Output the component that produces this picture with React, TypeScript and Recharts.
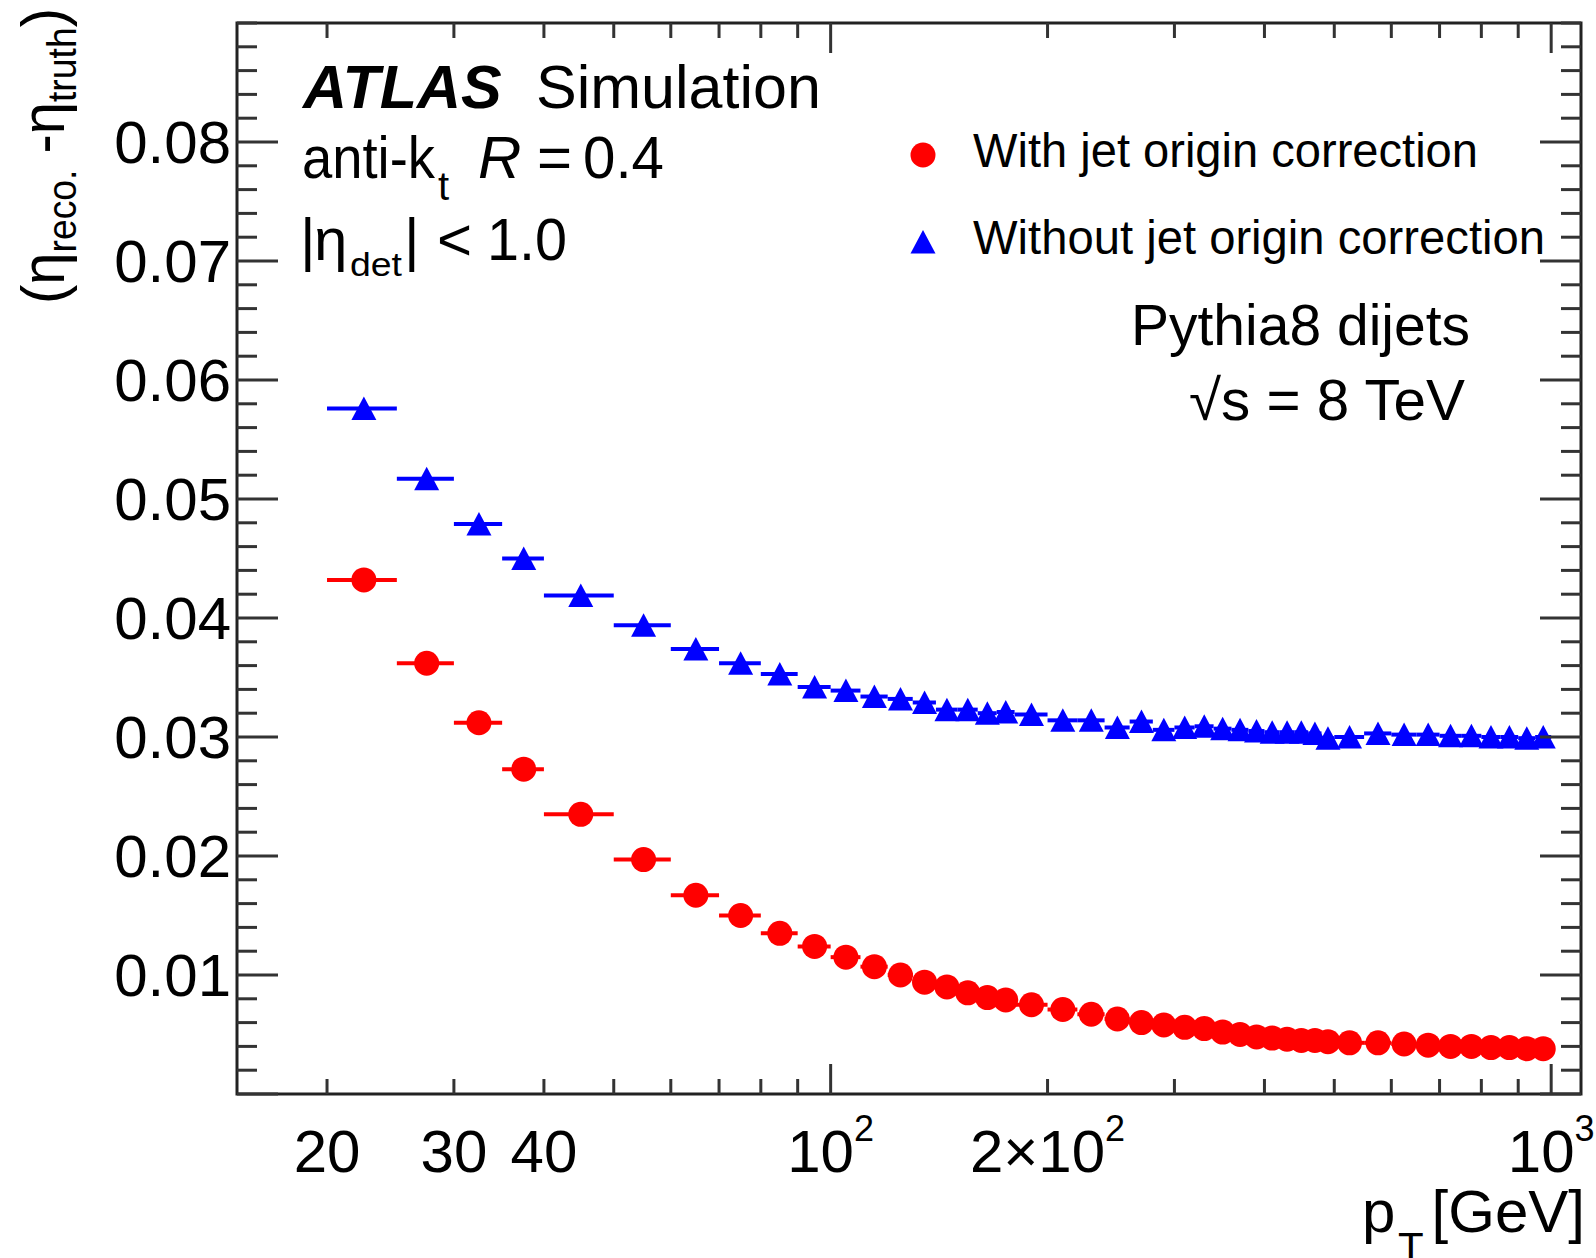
import React from 'react';
import { ScatterChart, Scatter, XAxis, YAxis, ErrorBar, ReferenceArea, Legend } from 'recharts';

// pT bin edges [GeV]
const ptEdges = [
  20, 25, 30, 35, 40, 50, 60, 70, 80, 90, 100, 110, 120, 130, 140, 150, 160, 170, 180,
  200, 220, 240, 260, 280, 300, 320, 340, 360, 380, 400, 420, 440, 460, 480, 500,
  550, 600, 650, 700, 750, 800, 850, 900, 950, 1000,
];

// <eta_reco - eta_truth> per bin
const withCorrection = [
  0.0432, 0.0362, 0.0312, 0.0273, 0.0235, 0.0197, 0.0167, 0.0150, 0.0135, 0.0124,
  0.0115, 0.0107, 0.0100, 0.0094, 0.0090, 0.0085, 0.0081, 0.0079, 0.0075, 0.0071,
  0.0067, 0.0063, 0.0060, 0.0058, 0.0056, 0.0055, 0.0052, 0.0050, 0.0048, 0.0047,
  0.0046, 0.0045, 0.0045, 0.0044, 0.0043, 0.0043, 0.0042, 0.0041, 0.0040, 0.0040,
  0.0039, 0.0039, 0.0038, 0.0038,
];
const withoutCorrection = [
  0.0576, 0.0517, 0.0479, 0.0450, 0.0419, 0.0394, 0.0374, 0.0362, 0.0353, 0.0342,
  0.0339, 0.0334, 0.0332, 0.0329, 0.0323, 0.0323, 0.0320, 0.0321, 0.0319, 0.0314,
  0.0314, 0.0308, 0.0313, 0.0306, 0.0308, 0.0309, 0.0307, 0.0306, 0.0305, 0.0304,
  0.0304, 0.0304, 0.0303, 0.0299, 0.0300, 0.0303, 0.0302, 0.0302, 0.0301, 0.0301,
  0.0300, 0.0300, 0.0299, 0.0300,
];

const seriesNames = ['With jet origin correction', 'Without jet origin correction'];

const xTicks = [20, 30, 40, 50, 60, 70, 80, 90, 100, 200, 300, 400, 500, 600, 700, 800, 900, 1000];
const xMajorTicks = [100, 1000];
const xTickLabels = [
  { v: 20, text: '20', sup: '' },
  { v: 30, text: '30', sup: '' },
  { v: 40, text: '40', sup: '' },
  { v: 100, text: '10', sup: '2' },
  { v: 200, text: '2\u00d710', sup: '2' },
  { v: 1000, text: '10', sup: '3' },
];

const yTicks = [
  0, 0.002, 0.004, 0.006, 0.008, 0.01, 0.012, 0.014, 0.016, 0.018,
  0.02, 0.022, 0.024, 0.026, 0.028, 0.03, 0.032, 0.034, 0.036, 0.038,
  0.04, 0.042, 0.044, 0.046, 0.048, 0.05, 0.052, 0.054, 0.056, 0.058,
  0.06, 0.062, 0.064, 0.066, 0.068, 0.07, 0.072, 0.074, 0.076, 0.078,
  0.08, 0.082, 0.084, 0.086, 0.088, 0.09,
];
const yTickLabels = ['0.01', '0.02', '0.03', '0.04', '0.05', '0.06', '0.07', '0.08'];

const W = 1596;
const H = 1258;
const LEFT = 237;
const RIGHT = 1581;
const TOP = 23;
const BOTTOM = 1094;
const FONT = '"Liberation Sans", Arial, Helvetica, sans-serif';
const RED = '#ff0000';
const BLUE = '#0000ff';
const TICK = '#333';

const buildSeries = (vals: number[]) =>
  vals.map((v, i) => {
    const lo = ptEdges[i];
    const hi = ptEdges[i + 1];
    const pt = (lo + hi) / 2;
    return { pt, y: v, xErr: [pt - lo, hi - pt] };
  });

const redData = buildSeries(withCorrection);
const blueData = buildSeries(withoutCorrection);

const Circle = ({ cx, cy, fill }: any) => <circle cx={cx} cy={cy} r={12.5} fill={fill} />;
const Triangle = ({ cx, cy, fill }: any) => (
  <polygon points={`${cx},${cy - 12} ${cx - 12.5},${cy + 11.5} ${cx + 12.5},${cy + 11.5}`} fill={fill} />
);

const XTick = (props: any) => {
  const { x, payload } = props;
  const v = payload.value;
  const len = xMajorTicks.includes(v) ? 30 : 15;
  const lab = xTickLabels.find((l) => l.v === v);
  return (
    <g>
      <line x1={x} x2={x} y1={BOTTOM} y2={BOTTOM - len} stroke={TICK} strokeWidth={3} />
      <line x1={x} x2={x} y1={TOP} y2={TOP + len} stroke={TICK} strokeWidth={3} />
      {lab && (
        <text x={x} y={1172} textAnchor="middle" fontSize={60} fontFamily={FONT} fill="#000">
          {lab.text}
          {lab.sup && (
            <tspan fontSize={36} dy={-31}>
              {lab.sup}
            </tspan>
          )}
        </text>
      )}
    </g>
  );
};

const YTick = (props: any) => {
  const { y, payload } = props;
  const v = payload.value;
  const label = yTickLabels.find((l) => Math.abs(parseFloat(l) - v) < 1e-9);
  const len = label || v === 0 ? 41 : 20;
  return (
    <g>
      <line x1={LEFT} x2={LEFT + len} y1={y} y2={y} stroke={TICK} strokeWidth={3} />
      <line x1={RIGHT} x2={RIGHT - len} y1={y} y2={y} stroke={TICK} strokeWidth={3} />
      {label && (
        <text x={231} y={y + 21} textAnchor="end" fontSize={60} fontFamily={FONT} fill="#000">
          {label}
        </text>
      )}
    </g>
  );
};

const legendTextWidths = [505, 572];

const LegendBox = () => (
  <svg width={700} height={160} style={{ display: 'block' }}>
    {seriesNames.map((name, i) => {
      const cy = i === 0 ? 40 : 127;
      return (
        <g key={name}>
          {i === 0 ? <Circle cx={28} cy={cy} fill={RED} /> : <Triangle cx={28} cy={cy} fill={BLUE} />}
          <text
            x={78}
            y={cy + 12}
            fontSize={48}
            fontFamily={FONT}
            textLength={legendTextWidths[i]}
            lengthAdjust="spacingAndGlyphs"
            fill="#000"
          >
            {name}
          </text>
        </g>
      );
    })}
  </svg>
);

const Annotations = () => (
  <svg width={W} height={H} style={{ position: 'absolute', left: 0, top: 0, pointerEvents: 'none' }} fontFamily={FONT}>
    <text x={303} y={108} fontSize={61} fontWeight="bold" fontStyle="italic">ATLAS</text>
    <text x={536} y={108} fontSize={61}>Simulation</text>

    <text x={302} y={178} fontSize={60} textLength={133} lengthAdjust="spacingAndGlyphs">anti-k</text>
    <text x={438} y={200} fontSize={40}>t</text>
    <text x={478} y={178} fontSize={60} fontStyle="italic">R</text>
    <text x={537} y={178} fontSize={60}>=</text>
    <text x={583} y={178} fontSize={60} textLength={81} lengthAdjust="spacingAndGlyphs">0.4</text>

    <text x={300} y={260} fontSize={60}>|</text>
    <text x={314} y={260} fontSize={60}>η</text>
    <text x={350} y={276} fontSize={34} textLength={52} lengthAdjust="spacingAndGlyphs">det</text>
    <text x={404} y={260} fontSize={60}>|</text>
    <text x={437} y={260} fontSize={60}>&lt;</text>
    <text x={487} y={260} fontSize={60} textLength={80} lengthAdjust="spacingAndGlyphs">1.0</text>

    <text x={1470} y={345} fontSize={57} textAnchor="end">Pythia8 dijets</text>
    <text x={1465} y={420} fontSize={57} textAnchor="end" textLength={276} lengthAdjust="spacingAndGlyphs">√s = 8 TeV</text>

    <g transform="translate(64, 304) rotate(-90)">
      <text x={0} y={0} fontSize={62} textLength={296} lengthAdjust="spacingAndGlyphs">
        (η
        <tspan fontSize={40} dy={12}>reco.</tspan>
        <tspan dy={-12}> -η</tspan>
        <tspan fontSize={40} dy={12}>truth</tspan>
        <tspan dy={-12}>)</tspan>
      </text>
    </g>

    <text x={1362} y={1232} fontSize={60}>p</text>
    <text x={1398} y={1262} fontSize={42}>T</text>
    <text x={1585} y={1232} fontSize={60} textAnchor="end">[GeV]</text>
  </svg>
);

export default function App() {
  return (
    <div style={{ position: 'absolute', left: 0, top: 0, width: W, height: H, background: '#fff' }}>
      <ScatterChart width={W} height={H} margin={{ top: TOP, right: W - RIGHT, bottom: 0, left: 0 }}>
        <XAxis
          dataKey="pt"
          type="number"
          scale="log"
          domain={[15, 1100]}
          allowDataOverflow
          ticks={xTicks}
          interval={0}
          tick={<XTick />}
          tickLine={false}
          axisLine={false}
          height={H - BOTTOM}
        />
        <YAxis
          dataKey="y"
          type="number"
          domain={[0, 0.09]}
          allowDataOverflow
          ticks={yTicks}
          interval={0}
          tick={<YTick />}
          tickLine={false}
          axisLine={false}
          width={LEFT}
        />
        <ReferenceArea x1={15} x2={1100} y1={0} y2={0.09} fill="none" stroke="#222" strokeWidth={3} ifOverflow="visible" />
        <Scatter name={seriesNames[0]} data={redData} fill={RED} shape={<Circle />} isAnimationActive={false}>
          <ErrorBar dataKey="xErr" direction="x" width={0} strokeWidth={4} stroke={RED} />
        </Scatter>
        <Scatter name={seriesNames[1]} data={blueData} fill={BLUE} shape={<Triangle />} isAnimationActive={false}>
          <ErrorBar dataKey="xErr" direction="x" width={0} strokeWidth={4} stroke={BLUE} />
        </Scatter>
        <Legend
          layout="vertical"
          align="center"
          verticalAlign="middle"
          content={<LegendBox />}
          wrapperStyle={{ left: 895, top: 115, width: 700, height: 160 }}
        />
      </ScatterChart>
      <Annotations />
    </div>
  );
}
